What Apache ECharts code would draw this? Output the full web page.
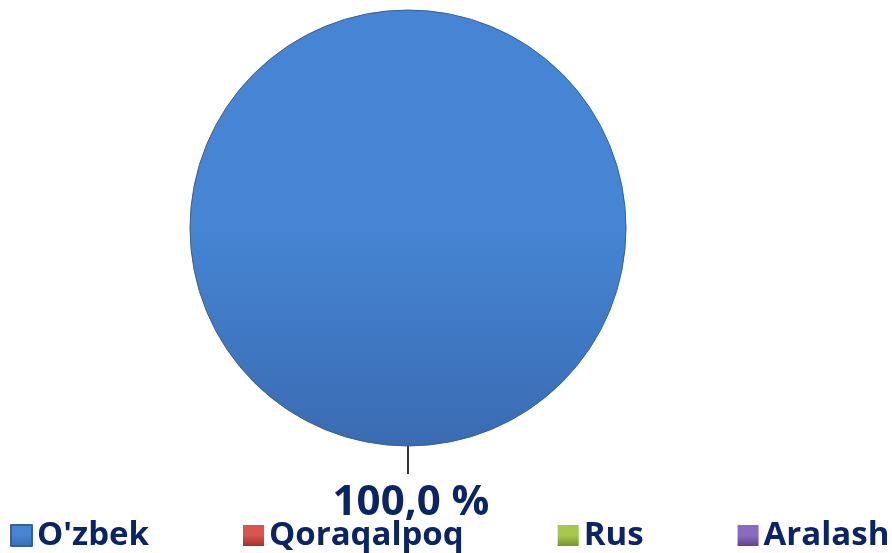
<!DOCTYPE html>
<html><head><meta charset="utf-8">
<script src="https://cdn.jsdelivr.net/npm/echarts@6/dist/echarts.min.js"></script>
<style>html,body{margin:0;padding:0;background:#fff}#c{width:892px;height:553px}</style>
</head><body><div id="c"></div>
<script>
var categories = ["O'zbek", "Qoraqalpoq", "Rus", "Aralash"];
var values = [100, 0, 0, 0];
var colorsTop = ['#4585D3', '#D9534F', '#A5C84E', '#8A6BBE'];
var colorsBottom = ['#3A6BB2', '#A8302C', '#76962F', '#5E4489'];

function grad(i){
  return new echarts.graphic.LinearGradient(0,0,0,1,[{offset:0,color:colorsTop[i]},{offset:0.5,color:colorsTop[i]},{offset:1,color:colorsBottom[i]}]);
}
var chart = echarts.init(document.getElementById('c'));
var data = categories.map(function(n,i){
  var nz = values[i] > 0;
  return {name:n, value:values[i],
    itemStyle:{color:grad(i), borderWidth: nz ? 1 : 0, borderColor:'#3A5F95'},
    label:{show: nz}, labelLine:{show: nz}};
});
chart.setOption({
  animation:false,
  legend:{
    left:10, top:519, padding:0, itemWidth:21, itemHeight:21, itemGap:94, itemTextGap:7, icon:'rect',
    textStyle:{color:'#0B2466', fontSize:33, fontWeight:'bold', fontFamily:'Open Sans'},
    data:categories
  },
  series:[{
    type:'pie', center:[408,228], radius:[0,218], startAngle:90,
    emphasis:{disabled:true},
    label:{show:true, position:'outside', color:'#0B2466', fontSize:42, fontWeight:'bold', fontFamily:'Open Sans',
      lineHeight:42, padding:[8,0,0,6],
      formatter:function(p){return p.percent.toFixed(1).replace('.',',')+' %';}},
    labelLine:{show:true, length:28, length2:0, lineStyle:{color:'#000', width:1.6}},
    labelLayout:function(params){
      var pts = params.labelLinePoints;
      if(!pts) return {};
      var e = pts[1];
      return {x:e[0], y:e[1], align:'center', verticalAlign:'top'};
    },
    data:data
  }]
});
</script></body></html>
